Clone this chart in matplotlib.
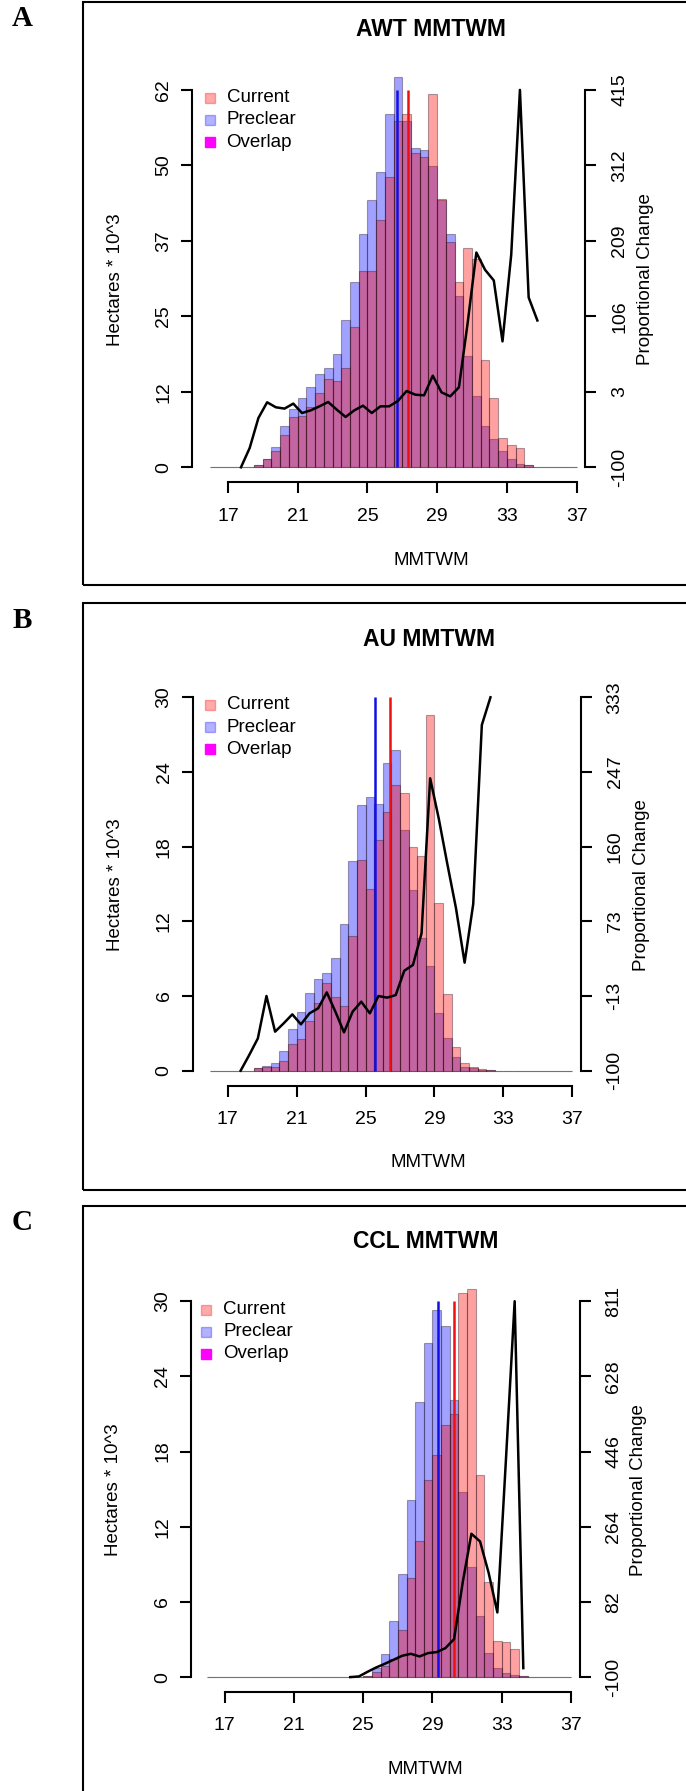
import numpy as np
import matplotlib
matplotlib.use("Agg")
import matplotlib.pyplot as plt
from matplotlib.lines import Line2D
from matplotlib.patches import Rectangle

W, H, DPI = 686, 1791, 100
nan = np.nan

# ---------------- data ----------------
bin_edges = np.arange(16.0, 37.01, 0.5)          # 42 bins of width 0.5
bin_left = bin_edges[:-1]
bin_mid = bin_left + 0.25
x_ticks = [17, 21, 25, 29, 33, 37]

# AWT
awt_current = [0, 0, 0, 0, 0.05, 0.4, 1.4, 2.75, 5.4, 8.3, 8.5, 10.0, 12.2, 14.5, 14.2, 16.4,
               23.2, 32.3, 32.3, 40.7, 47.8, 57.1, 58.3, 51.8, 51.1, 61.6, 44.2, 37.2, 30.6,
               36.2, 34.4, 17.7, 11.4, 4.8, 3.6, 3.1, 0.4, 0, 0, 0, 0, 0]
awt_preclear = [0, 0, 0, 0, 0.05, 0.45, 1.4, 3.4, 6.75, 9.6, 11.4, 13.2, 15.4, 16.4, 18.6, 24.2,
                30.6, 38.5, 44.0, 48.7, 58.3, 64.3, 57.1, 52.7, 52.3, 49.7, 44.0, 38.5, 28.2,
                18.3, 11.7, 6.75, 4.7, 2.75, 1.3, 0.6, 0.3, 0, 0, 0, 0, 0]
awt_change = [nan, nan, nan, -100, -73.6, -32.7, -11.3, -18.1, -19.9, -13.1, -25.9, -22.3,
              -16.8, -10.9, -21.4, -31.3, -22.3, -15.9, -25.9, -16.8, -16.8, -9.5, 4.1, -0.9,
              -1.8, 25.0, 2.3, -3.2, 9.1, 96.8, 193.1, 169.5, 155.0, 71.8, 190.0, 415.0, 131.8,
              100.4, nan, nan, nan, nan]
awt_mean_preclear, awt_mean_current = 26.72, 27.35
awt_ymax, awt_rmax = 62.2, 415.0
awt_left_labels = ["0", "12", "25", "37", "50", "62"]
awt_right_labels = ["-100", "3", "106", "209", "312", "415"]

# AU
au_current = [0, 0, 0, 0, 0, 0.2, 0.32, 0.32, 0.78, 2.12, 2.52, 4.02, 5.41, 7.07, 5.95, 5.22,
              10.85, 16.93, 14.57, 18.5, 20.75, 22.95, 22.3, 18.0, 17.25, 28.6, 13.5, 6.2, 1.93,
              0.59, 0.27, 0.1, 0.05, 0, 0, 0, 0, 0, 0, 0, 0, 0]
au_preclear = [0, 0, 0, 0, 0, 0.2, 0.4, 0.64, 1.58, 3.32, 4.74, 6.21, 7.36, 7.87, 9.03, 11.76,
               16.85, 21.34, 22.0, 21.4, 24.7, 25.8, 19.3, 14.5, 10.7, 8.4, 4.66, 2.6, 1.07,
               0.32, 0.18, 0.08, 0.03, 0, 0, 0, 0, 0, 0, 0, 0, 0]
au_change = [nan, nan, nan, -100, -81.8, -62.5, -13.3, -54.7, -45.0, -34.6, -46.2, -33.4, -27.6,
             -9.1, -31.5, -55.5, -31.5, -19.9, -33.4, -13.3, -15.2, -12.2, 16.1, 22.7, 59.4,
             239.4, 192.6, 139.6, 88.5, 25.4, 93.5, 301.3, 333.4, nan, nan, nan, nan, nan, nan,
             nan, nan, nan]
au_mean_preclear, au_mean_current = 25.57, 26.42
au_ymax, au_rmax = 30.0, 333.4
au_left_labels = ["0", "6", "12", "18", "24", "30"]
au_right_labels = ["-100", "-13", "73", "160", "247", "333"]

# CCL
ccl_current = [0] * 18 + [0.05, 0.37, 0.85, 1.44, 3.78, 7.9, 10.88, 15.7, 17.74, 20.1, 21.0,
                          30.65, 30.97, 16.15, 7.6, 2.9, 2.77, 2.23, 0.1, 0, 0, 0, 0, 0]
ccl_preclear = [0] * 18 + [0.05, 0.72, 1.86, 4.44, 8.22, 14.1, 21.95, 26.7, 29.26, 27.99, 22.1,
                           14.8, 8.78, 4.84, 1.92, 0.72, 0.32, 0.19, 0.08, 0, 0, 0, 0, 0]
ccl_change = [nan] * 16 + [-100, -98.4, -87.1, -76.6, -67.7, -58.0, -48.3, -43.5, -49.9, -41.8,
                           -39.4, -29.7, -7.9, 130.0, 247.4, 228.8, 152.0, 56.7, 430.0, 811.0,
                           -78.2, nan, nan, nan, nan, nan]
ccl_mean_preclear, ccl_mean_current = 29.34, 30.25
ccl_ymax, ccl_rmax = 30.0, 811.0
ccl_left_labels = ["0", "6", "12", "18", "24", "30"]
ccl_right_labels = ["-100", "82", "264", "446", "628", "811"]

titles = ["AWT MMTWM", "AU MMTWM", "CCL MMTWM"]
panel_letters = ["A", "B", "C"]
legend_labels = ["Current", "Preclear", "Overlap"]

# ---------------- style ----------------
SANS = ["Liberation Sans", "DejaVu Sans"]
SERIF = ["Liberation Serif", "DejaVu Serif"]
plt.rcParams["font.family"] = SANS
ALPHA = 0.37
RED_A = (1, 0, 0, ALPHA)
BLUE_A = (0, 0, 1, ALPHA)
EDGE = (0.1, 0.05, 0.1, 0.36)
LEG_COLORS = [(1, 0, 0, 0.33), (0, 0, 1, 0.3), (1, 0, 1, 1)]
TICK_FS, LAB_FS, TITLE_FS = 14, 13.5, 16.5

fig = plt.figure(figsize=(W / DPI, H / DPI), dpi=DPI)


def fx(x):
    return x / W


def fy(y):
    return 1 - y / H


# layout in pixels (measured on the reference)
layout = [
    dict(L=192.5, R=585.3, x17=227.9, x37=576.6, y0=467.3, yt=89.9,
         box=(83, 2, 584.9), title=(431, 29.8), xlab=(431, 560.7), ylab=(116, 280),
         rlab=(645, 279), letter=(22, 18), leg=(210, 226.6, [97.6, 119.8, 142.4])),
    dict(L=192.7, R=580.7, x17=227.7, x37=572.3, y0=1070.7, yt=697.3,
         box=(83, 603.4, 1190), title=(428.7, 639), xlab=(428, 1162.9), ylab=(116, 884.7),
         rlab=(641, 885.5), letter=(22, 620), leg=(210, 226.6, [704.8, 727.0, 749.2])),
    dict(L=191.2, R=579.6, x17=224.8, x37=570.9, y0=1677.1, yt=1301.2,
         box=(83, 1206.1, 1900), title=(425.2, 1241.7), xlab=(425.4, 1769.5), ylab=(113, 1489.7),
         rlab=(638.7, 1489.7), letter=(22, 1222.6), leg=(205.6, 223.1, [1309.6, 1331.8, 1354.0])),
]

panels = [
    (awt_current, awt_preclear, awt_change, awt_mean_preclear, awt_mean_current,
     awt_ymax, awt_rmax, awt_left_labels, awt_right_labels),
    (au_current, au_preclear, au_change, au_mean_preclear, au_mean_current,
     au_ymax, au_rmax, au_left_labels, au_right_labels),
    (ccl_current, ccl_preclear, ccl_change, ccl_mean_preclear, ccl_mean_current,
     ccl_ymax, ccl_rmax, ccl_left_labels, ccl_right_labels),
]

for i, (cur, pre, chg, m_pre, m_cur, ymax, rmax, llab, rlab) in enumerate(panels):
    g = layout[i]
    s = (g["x37"] - g["x17"]) / 20.0
    xl = 17 - (g["x17"] - g["L"]) / s
    xr = 37 + (g["R"] - g["x37"]) / s
    hpx = g["y0"] - g["yt"]
    bot = g["y0"] + 0.04 * hpx
    top = g["yt"] - 0.04 * hpx
    ax = fig.add_axes([fx(g["L"]), fy(bot), (g["R"] - g["L"]) / W, (bot - top) / H])
    ax.set_xlim(xl, xr)
    ax.set_ylim(-0.04 * ymax, 1.04 * ymax)
    ax.patch.set_alpha(0)

    ax.bar(bin_left, pre, width=0.5, align="edge", color=BLUE_A, edgecolor=EDGE, linewidth=0.8)
    ax.bar(bin_left, cur, width=0.5, align="edge", color=RED_A, edgecolor=EDGE, linewidth=0.8)
    ax.vlines([m_pre], 0, ymax, color="#1010e6", lw=1.8)
    ax.vlines([m_cur], 0, ymax, color="#ee1010", lw=1.8)

    for sp in ["top", "right"]:
        ax.spines[sp].set_visible(False)
    ax.spines["left"].set_bounds(0, ymax)
    ax.spines["bottom"].set_bounds(17, 37)
    for sp in ["left", "bottom"]:
        ax.spines[sp].set_linewidth(1.5)
    ax.set_yticks(np.linspace(0, ymax, 6))
    ax.set_yticklabels(llab, rotation=90, va="center")
    ax.set_xticks(x_ticks)
    ax.set_xticklabels([str(t) for t in x_ticks])
    ax.tick_params(axis="y", direction="out", length=8, width=1.5, labelsize=TICK_FS, pad=6.5)
    ax.tick_params(axis="x", direction="out", length=7.7, width=1.5, labelsize=TICK_FS, pad=10.5)

    ax2 = ax.twinx()
    rmin = -100.0
    rr = rmax - rmin
    ax2.set_ylim(rmin - 0.04 * rr, rmax + 0.04 * rr)
    ax2.plot(bin_mid, chg, color="black", lw=1.8)
    for sp in ["top", "left", "bottom"]:
        ax2.spines[sp].set_visible(False)
    ax2.spines["right"].set_bounds(rmin, rmax)
    ax2.spines["right"].set_linewidth(1.5)
    ax2.set_yticks(np.linspace(rmin, rmax, 6))
    ax2.set_yticklabels(rlab, rotation=90, va="center")
    ax2.tick_params(axis="y", direction="out", length=7.6, width=1.5, labelsize=TICK_FS, pad=11)

    # texts
    fig.text(fx(g["title"][0]), fy(g["title"][1]), titles[i], ha="center", va="center",
             fontsize=TITLE_FS, fontweight="bold")
    fig.text(fx(g["xlab"][0]), fy(g["xlab"][1]), "MMTWM", ha="center", va="center",
             fontsize=LAB_FS)
    fig.text(fx(g["ylab"][0]), fy(g["ylab"][1]), "Hectares * 10^3", ha="center", va="center",
             rotation=90, fontsize=LAB_FS)
    fig.text(fx(g["rlab"][0]), fy(g["rlab"][1]), "Proportional Change", ha="center",
             va="center", rotation=90, fontsize=LAB_FS)
    fig.text(fx(g["letter"][0]), fy(g["letter"][1]), panel_letters[i], ha="center",
             va="center", fontsize=21, fontweight="bold", family=SERIF)

    # legend
    mx, tx, rows = g["leg"]
    for lab, col, ry in zip(legend_labels, LEG_COLORS, rows):
        fig.add_artist(Line2D([fx(mx)], [fy(ry)], marker="s", markersize=6.5, color=col,
                              linestyle="none", transform=fig.transFigure))
        fig.text(fx(tx), fy(ry), lab, ha="left", va="center", fontsize=LAB_FS)

    # panel box
    bx, btop, bbot = g["box"]
    fig.add_artist(Rectangle((fx(bx), fy(bbot)), (760 - bx) / W, (bbot - btop) / H,
                             fill=False, lw=1.5, edgecolor="black",
                             transform=fig.transFigure))

fig.savefig("out.png", dpi=DPI)
